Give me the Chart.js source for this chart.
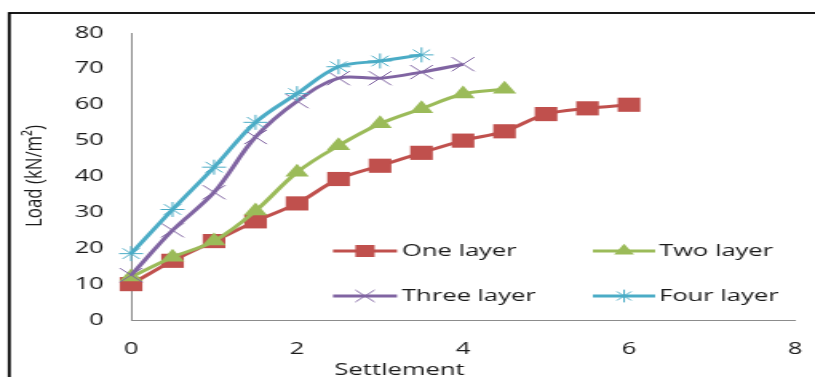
<!DOCTYPE html>
<html>
<head>
<meta charset="utf-8">
<script src="https://cdn.jsdelivr.net/npm/chart.js@4/dist/chart.umd.min.js"></script>
<style>
  html, body { margin: 0; padding: 0; background: #fff; overflow: hidden; }
  #wrap { width: 815px; height: 377px; overflow: hidden; position: relative; }
  /* the figure is laid out narrow and widened horizontally */
  #c { display: block; transform-origin: 0 0; transform: scaleX(1.598); }
</style>
</head>
<body>
<div id="wrap"><canvas id="c" width="510" height="377"></canvas></div>
<script>
// Load-settlement curves for reinforcement layers
const seriesNames = ['One layer', 'Two layer', 'Three layer', 'Four layer'];

const settlementOne = [0, 0.5, 1, 1.5, 2, 2.5, 3, 3.5, 4, 4.5, 5, 5.5, 6];
const loadOne       = [10, 16.5, 22, 27.5, 32.5, 39.3, 43, 46.6, 50, 52.6, 57.4, 59, 60];

const settlementTwo = [0, 0.5, 1, 1.5, 2, 2.5, 3, 3.5, 4, 4.5];
const loadTwo       = [12, 17.5, 22, 30.4, 41.2, 48.6, 54.7, 58.9, 63, 64.3];

const settlementThree = [0, 0.5, 1, 1.5, 2, 2.5, 3, 3.5, 4];
const loadThree       = [12.5, 25, 35.6, 51, 61, 67.4, 67.4, 69.1, 71.3];

const settlementFour = [0, 0.5, 1, 1.5, 2, 2.5, 3, 3.5];
const loadFour       = [18.5, 30.8, 42.6, 55.1, 63.1, 70.6, 72.2, 73.9];

const xTicks = [0, 2, 4, 6, 8];
const yTicks = [0, 10, 20, 30, 40, 50, 60, 70, 80];

const xTitle = 'Settlement';
const yTitle = 'Load (kN/m\u00B2)';

const FONT = 'Open Sans';
const colors = ['#C0504D', '#9BBB59', '#8064A2', '#4BACC6'];
const styles = [
  { pointStyle: 'rect', radius: 10, fill: true },
  { pointStyle: 'triangle', radius: 8.5, fill: true },
  { pointStyle: 'crossRot', radius: 10, fill: false },
  { pointStyle: 'star', radius: 7.5, fill: false }
];

function pairs(xs, ys) { return xs.map((x, i) => ({ x: x, y: ys[i] })); }
const seriesData = [
  pairs(settlementOne, loadOne),
  pairs(settlementTwo, loadTwo),
  pairs(settlementThree, loadThree),
  pairs(settlementFour, loadFour)
];

const datasets = seriesData.map((d, i) => ({
  label: seriesNames[i],
  data: d,
  borderColor: colors[i],
  backgroundColor: colors[i],
  borderWidth: 3,
  tension: 0.35,
  clip: false,
  order: 3 - i,
  pointStyle: styles[i].pointStyle,
  pointRadius: styles[i].radius,
  pointHoverRadius: styles[i].radius,
  pointBackgroundColor: colors[i],
  pointBorderColor: colors[i],
  pointBorderWidth: styles[i].fill ? 0 : 1
}));

// white page with a black frame
const framePlugin = {
  id: 'frame',
  beforeDraw(chart) {
    const ctx = chart.ctx;
    ctx.save();
    ctx.fillStyle = '#fff';
    ctx.fillRect(0, 0, chart.width, chart.height);
    ctx.strokeStyle = '#000';
    ctx.lineWidth = 1.8;
    ctx.strokeRect(5.8, 13, chart.width + 20, chart.height + 20);
    ctx.restore();
  }
};

// axis titles
const titlePlugin = {
  id: 'titles',
  afterDraw(chart) {
    const ctx = chart.ctx;
    ctx.save();
    ctx.fillStyle = '#1a1a1a';
    ctx.textAlign = 'center';
    ctx.textBaseline = 'middle';
    ctx.font = '16px "' + FONT + '"';
    ctx.fillText(xTitle, 250, 370);
    ctx.translate(21.6, 176);
    ctx.rotate(-Math.PI / 2);
    ctx.scale(1.12, 1);
    ctx.font = '15px "' + FONT + '"';
    ctx.fillText(yTitle, 0, 0);
    ctx.restore();
  }
};

// two-column legend inside the plot area
const legendPlugin = {
  id: 'insideLegend',
  afterDraw(chart) {
    const ctx = chart.ctx;
    const cols = [{ x1: 208.4, x2: 248.4, tx: 251.5 }, { x1: 371, x2: 410, tx: 412.4 }];
    const rows = [251, 296];
    chart.data.datasets.forEach((ds, i) => {
      const c = cols[i % 2];
      const y = rows[Math.floor(i / 2)];
      ctx.save();
      ctx.strokeStyle = ds.borderColor;
      ctx.lineWidth = 3;
      ctx.beginPath();
      ctx.moveTo(c.x1, y);
      ctx.lineTo(c.x2, y);
      ctx.stroke();
      ctx.fillStyle = ds.pointBackgroundColor;
      ctx.strokeStyle = ds.pointBorderColor;
      ctx.lineWidth = ds.pointBorderWidth;
      Chart.helpers.drawPoint(ctx, {
        pointStyle: ds.pointStyle,
        radius: ds.pointRadius * 0.85,
        rotation: 0,
        borderWidth: ds.pointBorderWidth
      }, (c.x1 + c.x2) / 2, y);
      ctx.fillStyle = '#1a1a1a';
      ctx.font = '16px "' + FONT + '"';
      ctx.textAlign = 'left';
      ctx.textBaseline = 'middle';
      ctx.fillText(ds.label, c.tx, y);
      ctx.restore();
    });
  }
};

const tickFont = { family: FONT, size: 16 };

new Chart(document.getElementById('c'), {
  type: 'line',
  data: { datasets: datasets },
  options: {
    responsive: false,
    animation: false,
    devicePixelRatio: 1,
    layout: { padding: { top: 33, right: 12.5, left: 0, bottom: 0 } },
    plugins: { legend: { display: false }, tooltip: { enabled: false } },
    scales: {
      x: {
        type: 'linear',
        min: xTicks[0],
        max: xTicks[xTicks.length - 1],
        afterBuildTicks(s) { s.ticks = xTicks.map(v => ({ value: v })); },
        ticks: { color: '#1a1a1a', font: tickFont, padding: 12 },
        grid: { display: false },
        border: { display: true, color: '#8c8c8c', width: 1 },
        afterFit(s) { s.height = 57; s.paddingLeft = 0; s.paddingRight = 0; }
      },
      y: {
        type: 'linear',
        min: yTicks[0],
        max: yTicks[yTicks.length - 1],
        afterBuildTicks(s) { s.ticks = yTicks.map(v => ({ value: v })); },
        ticks: { color: '#1a1a1a', font: tickFont, padding: 9 },
        grid: { display: false },
        border: { display: true, color: '#8c8c8c', width: 1 },
        afterFit(s) { s.width = 82; }
      }
    }
  },
  plugins: [framePlugin, titlePlugin, legendPlugin]
});
</script>
</body>
</html>
